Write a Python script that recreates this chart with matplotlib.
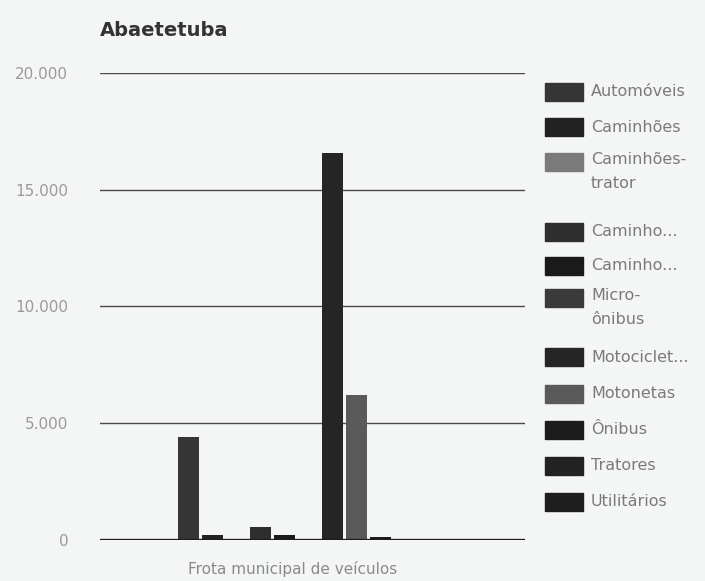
import numpy as np
import matplotlib.pyplot as plt
from matplotlib.patches import Rectangle

# frota municipal - Abaetetuba
categoria = 'Frota municipal de veículos'
series = ['Automóveis', 'Caminhões', 'Caminhões-\ntrator', 'Caminho...', 'Caminho...',
          'Micro-\nônibus', 'Motociclet...', 'Motonetas', 'Ônibus', 'Tratores', 'Utilitários']
valores = [4400, 200, 0, 550, 200, 0, 16600, 6200, 100, 0, 0]
cores = ['#353535', '#222222', '#7a7a7a', '#2e2e2e', '#1a1a1a', '#3a3a3a',
         '#252525', '#5a5a5a', '#1c1c1c', '#222222', '#1e1e1e']
yticks = [0, 5000, 10000, 15000, 20000]
ytick_labels = ['0', '5.000', '10.000', '15.000', '20.000']

fundo = '#f4f5f5'
W, H = 705.0, 581.0
fig = plt.figure(figsize=(7.05, 5.81), dpi=100, facecolor=fundo)
ax = fig.add_axes([0.142, 0.071, 0.603, 0.803], facecolor=fundo)

n = len(series)
passo = 24 / 425
larg = 21 / 425
xs = (np.arange(n) - (n - 1) / 2) * passo - 4 / 425
ax.bar(xs, valores, width=larg, color=cores, zorder=3)

ax.set_xlim(-0.5, 0.5)
ax.set_ylim(0, 20000)
ax.set_yticks(yticks)
ax.set_yticklabels(ytick_labels)
ax.set_xticks([])
for s in ax.spines.values():
    s.set_visible(False)
ax.grid(axis='y', color='#4a4a4a', linewidth=1.0, zorder=1)
ax.axhline(0, color='#1e1e1e', linewidth=2.4, zorder=4)
ax.tick_params(axis='y', length=0, pad=23, labelsize=11, labelcolor='#9a9a9a')
ax.set_xlabel(categoria, fontsize=11, color='#8a8a8a')
ax.xaxis.set_label_coords((292 - 100) / 425, -0.045)

fig.text(100 / W, 1 - 30 / H, 'Abaetetuba', fontsize=14, fontweight='bold', color='#333333',
         ha='left', va='center')

# legenda manual
y_leg = [92, 127, 162, 232, 266, 298, 357, 394, 430, 466, 502]
for nome, cor, yy in zip(series, cores, y_leg):
    fig.patches.append(Rectangle((545 / W, 1 - (yy + 9) / H), 38 / W, 18 / H,
                                 transform=fig.transFigure, color=cor, figure=fig))
    if '\n' in nome:
        fig.text(591 / W, 1 - (yy - 10) / H, nome, fontsize=11.5, color='#7a7a7a',
                 ha='left', va='top', linespacing=1.75)
    else:
        fig.text(591 / W, 1 - yy / H, nome, fontsize=11.5, color='#7a7a7a',
                 ha='left', va='center')

fig.savefig('out.png', dpi=100, facecolor=fundo)
